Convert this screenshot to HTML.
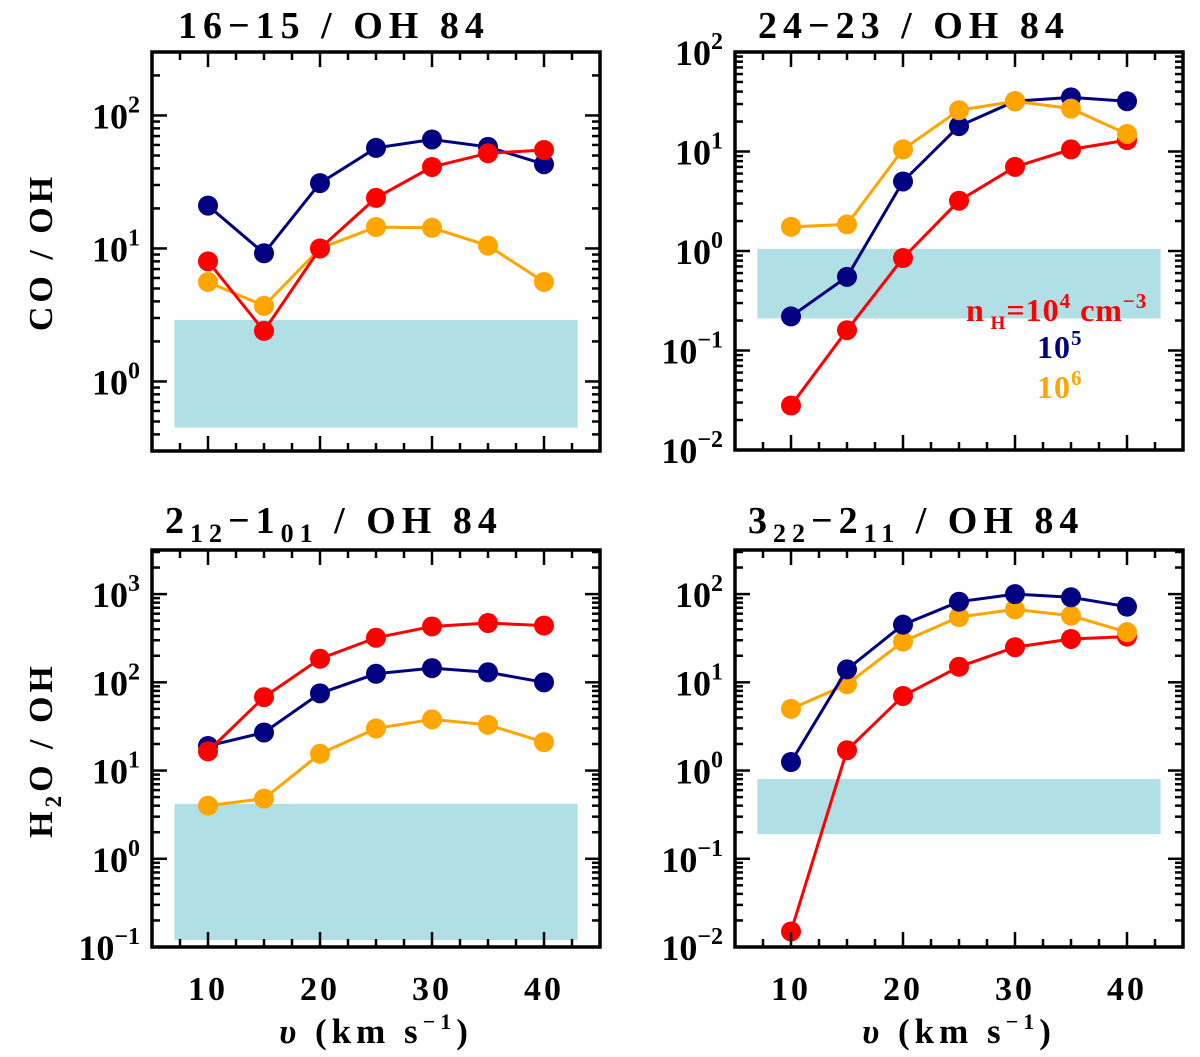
<!DOCTYPE html>
<html><head><meta charset="utf-8"><style>
body{margin:0;background:#fff}
svg text{font-family:"Liberation Serif",serif;font-weight:bold;fill:#000}
</style></head><body>
<svg id="chart" width="1200" height="1052" xmlns="http://www.w3.org/2000/svg"></svg>
<script>
const velocities=[10,15,20,25,30,35,40];
const xTicks=[10,20,30,40];
// panel 1: CO 16-15
const p1Red=[8,2.4,10,24,41,52,55];
const p1Blue=[21,9.2,31,57,66,58,43];
const p1Orange=[5.6,3.7,10,14.5,14.3,10.5,5.6];
const p1Band=[0.45,2.9];
// panel 2: CO 24-23
const p2Red=[0.028,0.16,0.85,3.2,7,10.5,13];
const p2Blue=[0.22,0.55,5,18,32,35,32];
const p2Orange=[1.75,1.85,10.5,26,32,27,15];
const p2Band=[0.21,1.05];
// panel 3: H2O 212-101
const p3Red=[16.5,68,185,320,430,470,440];
const p3Blue=[19,27,75,125,145,130,100];
const p3Orange=[4,4.8,15.5,30,38,33,21];
const p3Band=[0.12,4.2];
// panel 4: H2O 322-211
const p4Red=[0.015,1.7,7,15,25,31,33];
const p4Blue=[1.25,14,45,82,100,92,72];
const p4Orange=[5,9.5,29,55,67,57,37];
const p4Band=[0.19,0.8];

const NS="http://www.w3.org/2000/svg";
const svg=document.getElementById('chart');
function mk(tag,attrs,parent){const e=document.createElementNS(NS,tag);for(const k in attrs)e.setAttribute(k,attrs[k]);(parent||svg).appendChild(e);return e;}
const RED='#ff0000',BLUE='#000080',ORANGE='#ffa500';

function panel(o){
  const g=mk('g',{});
  
  
  const L=o.x0,R=o.x1,T=o.y0,B=o.y1;
  const lmin=Math.log10(o.ymin),lmax=Math.log10(o.ymax);
  const X=v=>L+(v-5)/40*(R-L);
  const Y=v=>B-(Math.log10(v)-lmin)/(lmax-lmin)*(B-T);
  const band=mk('rect',{x:X(7),y:Y(o.band[1]),width:X(43)-X(7),height:Y(o.band[0])-Y(o.band[1]),fill:'#b0e0e6'},g);
  
  
  const series=[[o.red,RED,'red'],[o.blue,BLUE,'blue'],[o.orange,ORANGE,'orange']];
  for(const s of (o.order||[0,1,2]).map(i=>series[i])){
    const pts=velocities.map((v,i)=>X(v)+','+Y(s[0][i])).join(' ');
    const pl=mk('polyline',{points:pts,fill:'none',stroke:s[1],'stroke-width':3},g);
    
    
    velocities.forEach((v,i)=>{
      const c=mk('circle',{cx:X(v),cy:Y(s[0][i]),r:10,fill:s[1]},g);
      
      
    });
  }
  const fr=mk('rect',{x:L,y:T,width:R-L,height:B-T,fill:'none',stroke:'#000','stroke-width':3.5},g);
  
  
  for(let v=7.5;v<=42.6;v+=2.5){
    const maj=(v%10===0);const len=maj?15:8;
    mk('line',{x1:X(v),x2:X(v),y1:B,y2:B-len,stroke:'#000','stroke-width':2.5},g);
    mk('line',{x1:X(v),x2:X(v),y1:T,y2:T+len,stroke:'#000','stroke-width':2.5},g);
  }
  if(o.xlabel){
    xTicks.forEach(v=>{
      const t=mk('text',{x:X(v),y:B+53,'font-size':34,'text-anchor':'middle','letter-spacing':3},g);
      t.textContent=v;
      
      
    });
    const xl=mk('text',{x:(L+R)/2,y:1043,'font-size':35,'text-anchor':'middle','letter-spacing':5},g);
    
    
    xl.innerHTML='<tspan font-style="italic">υ</tspan> (km s<tspan dy="-14" font-size="22">−1</tspan><tspan dy="14">)</tspan>';
  }
  for(let d=Math.floor(lmin);d<=Math.ceil(lmax);d++){
    for(let m=1;m<10;m++){
      const v=m*Math.pow(10,d);const lv=Math.log10(v);
      if(lv<lmin-1e-6||lv>lmax+1e-6)continue;
      const len=m===1?15:8;
      mk('line',{x1:L,x2:L+len,y1:Y(v),y2:Y(v),stroke:'#000','stroke-width':2.5},g);
      mk('line',{x1:R,x2:R-len,y1:Y(v),y2:Y(v),stroke:'#000','stroke-width':2.5},g);
      if(m===1){
        const t=mk('text',{x:L-12,y:Y(v)+13,'font-size':36,'text-anchor':'end'},g);
        
        
        const ex=d<0?'\u2212'+(-d):''+d;
        t.innerHTML='10<tspan dy="-16" font-size="24">'+ex+'</tspan>';
      }
    }
  }
  const tt=mk('text',{x:o.tx,y:o.ty,'font-size':38,'font-weight':'normal','letter-spacing':6},g);
  
  
  tt.innerHTML=o.title;
}
panel({name:'panel-co-16-15',x0:152,x1:600,y0:52,y1:451,ymin:0.3,ymax:300,red:p1Red,blue:p1Blue,orange:p1Orange,band:p1Band,order:[1,2,0],tx:178,ty:38,title:'16−15 / OH 84'});
panel({name:'panel-co-24-23',x0:735,x1:1183,y0:52,y1:450,ymin:0.01,ymax:100,red:p2Red,blue:p2Blue,orange:p2Orange,band:p2Band,order:[0,1,2],tx:758,ty:38,title:'24−23 / OH 84'});
panel({name:'panel-h2o-212-101',x0:152,x1:600,y0:550,y1:947,ymin:0.1,ymax:3162,red:p3Red,blue:p3Blue,orange:p3Orange,band:p3Band,order:[2,1,0],tx:165,ty:533,xlabel:true,title:'2<tspan dy="9" font-size="26">12</tspan><tspan dy="-9">−1</tspan><tspan dy="9" font-size="26">01</tspan><tspan dy="-9"> / OH 84</tspan>'});
panel({name:'panel-h2o-322-211',x0:735,x1:1183,y0:550,y1:947,ymin:0.01,ymax:316,red:p4Red,blue:p4Blue,orange:p4Orange,band:p4Band,order:[0,2,1],tx:748,ty:533,xlabel:true,title:'3<tspan dy="9" font-size="26">22</tspan><tspan dy="-9">−2</tspan><tspan dy="9" font-size="26">11</tspan><tspan dy="-9"> / OH 84</tspan>'});

function ytitle(name,x,y,html){
  const t=mk('text',{x:x,y:y,'font-size':34,'text-anchor':'middle','letter-spacing':4,transform:'rotate(-90 '+x+' '+y+')'});
  
  
  t.innerHTML=html;
}
ytitle('y-axis-title-co',52,252,'CO / OH');
ytitle('y-axis-title-h2o',52,750,'H<tspan dy="9" font-size="23">2</tspan><tspan dy="-9">O / OH</tspan>');

const leg=[['n<tspan dy="8" font-size="19"> H</tspan><tspan dy="-8">=10</tspan><tspan dy="-13" font-size="21">4</tspan><tspan dy="13"> cm</tspan><tspan dy="-13" font-size="21">−3</tspan>',966,321,RED,'legend-entry-1e4'],
['10<tspan dy="-13" font-size="21">5</tspan>',1037,358,BLUE,'legend-entry-1e5'],
['10<tspan dy="-13" font-size="21">6</tspan>',1037,398,ORANGE,'legend-entry-1e6']];
leg.forEach(l=>{
  const t=mk('text',{x:l[1],y:l[2],'font-size':32,'letter-spacing':1});
  t.style.fill=l[3];
  
  
  t.innerHTML=l[0];
});
</script>
</body></html>
